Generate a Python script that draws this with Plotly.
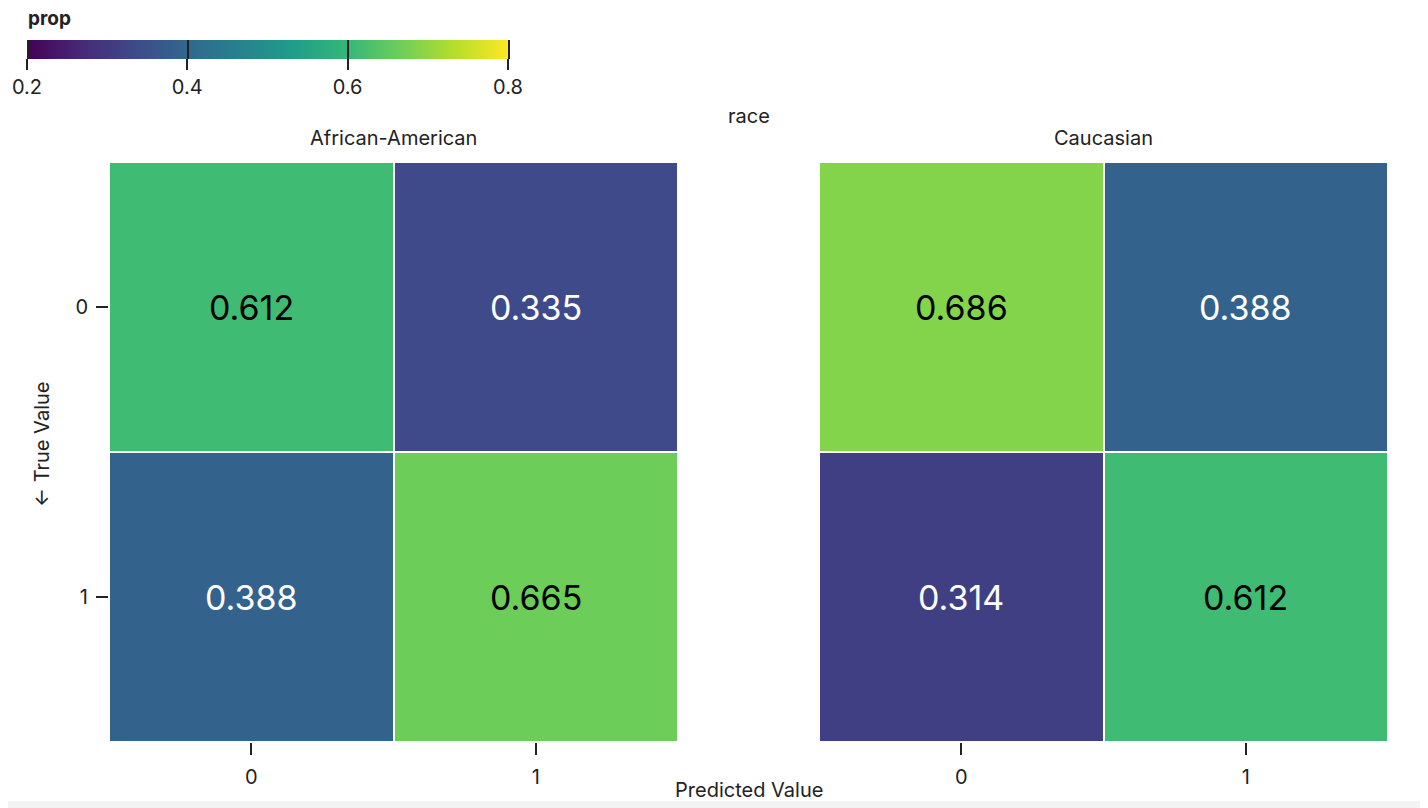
import plotly.graph_objects as go

# ---- data ----
races = ["African-American", "Caucasian"]
pred_labels = ["0", "1"]
true_labels = ["0", "1"]
prop_aa = [[0.612, 0.335], [0.388, 0.665]]
prop_ca = [[0.686, 0.388], [0.314, 0.612]]
cb_ticks = [0.2, 0.4, 0.6, 0.8]
cb_min, cb_max = 0.2, 0.8

OFF = 8  # page body margin
W, H = 1420, 800
ML, MR, MT, MB = 101, 40, 154, 66
PW, PH = W - ML - MR, H - MT - MB
FONT = "Inter, Roboto, sans-serif"
TXT = "#222222"

def px_x(page_x):
    return (page_x - OFF - ML) / PW

def px_y(page_y):
    return (H - MB - (page_y - OFF)) / PH

CB_X, CB_Y, CB_LEN = 29, 40, 481  # page pixels

def cb_geom(zmin, zmax):
    scale = CB_LEN / (cb_max - cb_min)
    x_left = CB_X - (cb_min - zmin) * scale
    return dict(
        orientation="h", xref="container", yref="container",
        x=(x_left - OFF) / W, xanchor="left", y=1 - (CB_Y - OFF) / H, yanchor="top",
        lenmode="pixels", len=(zmax - zmin) * scale, thickness=19,
        xpad=0, ypad=0, outlinewidth=0, tickvals=cb_ticks,
    )

fig = go.Figure()
panels = [prop_aa, prop_ca]
for i, z in enumerate(panels):
    sfx = "" if i == 0 else str(i + 1)
    fig.add_trace(go.Heatmap(
        z=z, x=pred_labels, y=true_labels,
        colorscale="Viridis", zmin=cb_min, zmax=cb_max,
        xgap=2, ygap=2,
        xaxis="x" + sfx, yaxis="y" + sfx,
        showscale=(i == 0),
        hovertemplate="Predicted %{x}<br>True %{y}<br>prop %{z:.3f}<extra>" + races[i] + "</extra>",
        colorbar=dict(
            **cb_geom(cb_min, cb_max),
            ticktext=[f"{v:.1f}" for v in cb_ticks],
            ticks="outside", ticklen=11, tickwidth=1.5, tickcolor=TXT,
            tickfont=dict(size=20, color=TXT, family=FONT),
        ),
    ))
    for r, tl in enumerate(true_labels):
        for c, pl in enumerate(pred_labels):
            v = z[r][c]
            fig.add_annotation(
                x=pl, y=tl, xref="x" + sfx, yref="y" + sfx,
                text=f"{v:.3f}", showarrow=False,
                font=dict(size=34, family=FONT, color="black" if v > 0.5 else "white"),
            )

# ghost colorbar (transparent, slightly wider range) draws tick lines across the bar
g_min, g_max = cb_min - 0.01, cb_max + 0.01
fig.add_trace(go.Heatmap(
    z=prop_aa, x=pred_labels, y=true_labels,
    colorscale=[[0, "rgba(0,0,0,0)"], [1, "rgba(0,0,0,0)"]], zmin=g_min, zmax=g_max,
    xaxis="x", yaxis="y", hoverinfo="skip", showscale=True,
    colorbar=dict(
        **cb_geom(g_min, g_max), showticklabels=False,
        ticks="inside", ticklen=19, tickwidth=1.5, tickcolor=TXT,
        bgcolor="rgba(0,0,0,0)",
    ),
))

axis_common = dict(
    type="category", showgrid=False, zeroline=False, showline=False,
    ticks="outside", ticklen=12, tickwidth=1.5, tickcolor=TXT,
    tickfont=dict(size=20, color=TXT, family=FONT),
)
dom1 = [0, (670 - ML) / PW]
dom2 = [(811 - ML) / PW, 1]
fig.update_layout(
    width=W, height=H,
    margin=dict(l=ML, r=MR, t=MT, b=MB, autoexpand=False),
    paper_bgcolor="white", plot_bgcolor="white",
    font=dict(family=FONT, color=TXT),
    xaxis=dict(domain=dom1, anchor="y", ticklabelstandoff=5, **axis_common),
    xaxis2=dict(domain=dom2, anchor="y2", ticklabelstandoff=5, **axis_common),
    yaxis=dict(domain=[0, 1], anchor="x", autorange="reversed", ticklabelstandoff=4, **axis_common),
    yaxis2=dict(domain=[0, 1], anchor="x2", autorange="reversed", matches="y",
                type="category", showgrid=False, zeroline=False, showticklabels=False, ticks=""),
    showlegend=False,
)

ann_font = dict(size=20, color=TXT, family=FONT)

def label(text, x, y, xanchor="center", angle=0, font=ann_font):
    fig.add_annotation(text=text, x=px_x(x), y=px_y(y), xref="paper", yref="paper",
                       xanchor=xanchor, yanchor="middle", showarrow=False,
                       textangle=angle, font=font)

label("<b>prop</b>", 26, 19, xanchor="left", font=dict(size=19, color=TXT, family=FONT))
label("race", 749, 116)
for i, name in enumerate(races):
    d = dom1 if i == 0 else dom2
    cx = ML + OFF + (d[0] + d[1]) / 2 * PW
    label(name, cx, 138)
label("Predicted Value", 749, 790)
label("← True Value", 42, 445, angle=-90)

# light gray strip at the bottom of the page
fig.add_shape(type="rect", xref="paper", yref="paper",
              x0=px_x(0), x1=px_x(1440), y0=px_y(801), y1=px_y(812),
              fillcolor="#f3f3f3", line_width=0, layer="below")

fig.write_html("out.html")
